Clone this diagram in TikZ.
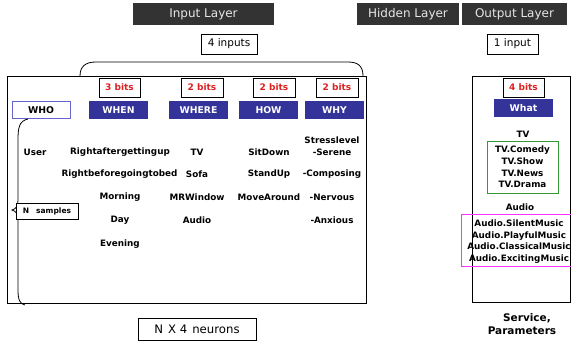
\documentclass[tikz,border=0pt]{standalone}
\usepackage{fontspec}
\setmainfont{DejaVu Sans}
\begin{document}
\begin{tikzpicture}[x=1pt,y=-1pt,
  layerbox/.style={fill=darkhdr,text=lighttxt,minimum height=22pt,inner sep=0pt,font=\fontsize{12}{14}\selectfont},
  plainbox/.style={draw=black,fill=white,minimum height=20pt,inner sep=0pt,font=\fontsize{10.5}{12}\selectfont},
  bitsbox/.style={draw=black,fill=white,minimum height=19pt,inner sep=0pt,text=bitred,font=\bfseries\fontsize{9}{11}\selectfont},
  catbox/.style={fill=navy,text=white,minimum height=18pt,inner sep=0pt,font=\bfseries\fontsize{9.3}{11}\selectfont},
  item/.style={inner sep=0pt,font=\bfseries\fontsize{8.8}{11}\selectfont},
  listbox/.style={inner sep=0pt,align=center,font=\bfseries\fontsize{8.8}{11.7}\selectfont}]
\definecolor{darkhdr}{HTML}{333333}
\definecolor{lighttxt}{HTML}{E6E6E6}
\definecolor{navy}{HTML}{333399}
\definecolor{whoblue}{HTML}{6666CC}
\definecolor{bitred}{HTML}{DD2222}
\definecolor{grn}{HTML}{339933}
\definecolor{mag}{HTML}{FF33FF}
\useasboundingbox (0,0) rectangle (571,351);
\fill[white] (0,0) rectangle (571,351);

% layer headers
\node[layerbox,minimum width=141pt] (inl) at (203.5,14) {Input Layer};
\node[layerbox,minimum width=102pt] (hidl) at (408,14) {Hidden Layer};
\node[layerbox,minimum width=105pt] (outl) at (514.5,14) {Output Layer};

\node[plainbox,minimum width=56pt] (four) at (229,44) {4 inputs};
\node[plainbox,minimum width=51pt] (one) at (512.5,44) {1 input};

% main frames
\draw[thick] (7,76) rectangle (366,303);
\coordinate (bl) at (80,76);
\coordinate (br) at (363,76);
\draw[thick] (bl) .. controls (80,66) and (86,62) .. (96,62) -- (348,62) .. controls (358,62) and (363,66) .. (br);
\draw[thick] (472,76) rectangle (570,302);

% bits
\node[bitsbox,minimum width=41pt] (b1) at (119.5,87.5) {3 bits};
\node[bitsbox,minimum width=42pt] (b2) at (202,87.5) {2 bits};
\node[bitsbox,minimum width=42pt] (b3) at (274,87.5) {2 bits};
\node[bitsbox,minimum width=42pt] (b4) at (337,87.5) {2 bits};
\node[bitsbox,minimum width=41pt] (b5) at (523.5,87.5) {4 bits};

% categories
\node[draw=whoblue,fill=white,minimum width=58pt,minimum height=17pt,inner sep=0pt,font=\bfseries\fontsize{9.3}{11}\selectfont] (who) at (41,110) {WHO};
\node[catbox,minimum width=59pt] (when) at (118.5,110) {WHEN};
\node[catbox,minimum width=59pt] (where) at (198.5,110) {WHERE};
\node[catbox,minimum width=59pt] (how) at (268.5,110) {HOW};
\node[catbox,minimum width=59pt] (why) at (334.5,110) {WHY};
\node[catbox,minimum width=59pt] (what) at (523.5,108) {What};

% items
\node[item] (user) at (35,152) {User};
\node[item] (w1) at (120,152) {Rightaftergettingup};
\node[item] (w2) at (119.5,174) {Rightbeforegoingtobed};
\node[item] (w3) at (120,197) {Morning};
\node[item] (w4) at (120,220) {Day};
\node[item] (w5) at (120,244) {Evening};
\node[item] (p1) at (197,152) {TV};
\node[item] (p2) at (197,174) {Sofa};
\node[item] (p3) at (197,197) {MRWindow};
\node[item] (p4) at (197,220) {Audio};
\node[item] (h1) at (269,152) {SitDown};
\node[item] (h2) at (269,174) {StandUp};
\node[item] (h3) at (269,197) {MoveAround};
\node[item] (y0) at (332,140) {Stresslevel};
\node[item] (y1) at (332,152) {-Serene};
\node[item] (y2) at (332,174) {-Composing};
\node[item] (y3) at (332,197) {-Nervous};
\node[item] (y4) at (332,220) {-Anxious};

% brace
\draw[thick] (28,119) .. controls (19,121) and (18,128) .. (18,140) -- (18,200) .. controls (18,206) and (16,209) .. (12,210) .. controls (16,211) and (18,214) .. (18,220) -- (18,290) .. controls (18,300) and (20,304) .. (25,305);
\node[draw=black,fill=white,minimum width=62pt,minimum height=16pt,inner sep=0pt,font=\bfseries\fontsize{7.5}{9}\selectfont] (ns) at (47,211) {N\hspace{7pt}samples};

\node[plainbox,minimum width=118pt,minimum height=22pt,font=\fontsize{11.7}{13}\selectfont] (neu) at (197,329) {N\hspace{5pt}X 4\hspace{5pt}neurons};

% outputs
\node[item] (tv) at (523,134) {TV};
\node[listbox,draw=grn,thick,minimum width=71pt,minimum height=52pt] (tvl) at (522.5,167) {TV.Comedy\\TV.Show\\TV.News\\TV.Drama};
\node[item] (au) at (520,207) {Audio};
\node[draw=mag,thick,minimum width=110pt,minimum height=52pt,inner sep=0pt] (aub) at (516,240) {};
\node[listbox] (aul) at (519,241.5) {Audio.SilentMusic\\Audio.PlayfulMusic\\Audio.ClassicalMusic\\Audio.ExcitingMusic};

\node[inner sep=0pt,align=center,font=\bfseries\fontsize{10.5}{13}\selectfont] (svc) at (522,324) {\hspace*{10pt}Service,\\Parameters};
\end{tikzpicture}
\end{document}
